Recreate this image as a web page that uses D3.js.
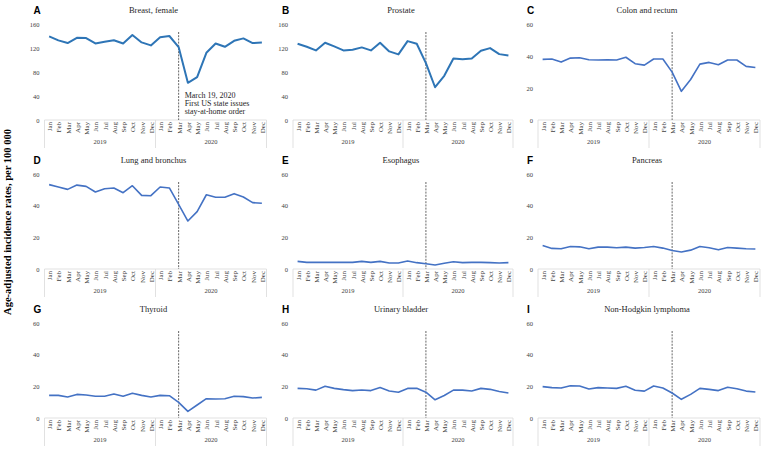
<!DOCTYPE html>
<html><head><meta charset="utf-8">
<script src="https://cdn.jsdelivr.net/npm/d3@7"></script>
<style>body{margin:0;background:#fff}svg{display:block}</style>
</head><body>
<svg id="c" width="771" height="451"></svg>
<script>
const months = ["Jan","Feb","Mar","Apr","May","Jun","Jul","Aug","Sep","Oct","Nov","Dec"];
const years = ["2019","2020"];
const panelLetters = ["A","B","C","D","E","F","G","H","I"];
const panelTitles = ["Breast, female","Prostate","Colon and rectum","Lung and bronchus","Esophagus","Pancreas","Thyroid","Urinary bladder","Non-Hodgkin lymphoma"];
const breast = [139.4,132.7,128.2,137,136.6,127.6,130.4,133,127.6,141.6,129.3,124.3,138,140,121.5,62,71.3,112,127.6,122,132,136,128.2,129];
const prostate = [127,122,116,128.8,122.6,116,117,121,116,128.8,114.3,109.3,131.5,127,94.8,54.6,73.6,102.6,101.4,102.6,115.4,119.8,109.8,107.6];
const colon = [37.9,38.1,36.2,38.7,38.9,37.7,37.5,37.7,37.5,39.2,35.2,34.3,38.1,38.1,29.9,17.9,25.3,34.9,36,34.5,37.5,37.5,33.5,32.8];
const lung = [53.3,51.8,50.3,53,52.2,48.6,50.7,51.2,48.2,52.6,46.5,46.3,51.8,51.2,40.8,30.3,36.2,46.9,45.3,45.3,47.6,45.5,41.9,41.5];
const esophagus = [4.8,4.2,4.2,4.2,4.2,4.2,4.2,4.8,4.2,4.8,3.8,3.8,5,4,3.3,2.5,3.6,4.6,4,4.2,4.2,4,3.8,4];
const pancreas = [14.8,13,12.8,14.2,14,12.8,13.8,13.8,13.4,13.8,13.2,13.6,14.2,13.2,11.7,10.7,11.9,14.2,13.4,12.1,13.6,13.2,12.8,12.6];
const thyroid = [14.3,14.3,13.3,14.9,14.5,13.7,13.7,15.2,13.7,15.6,14.3,13.3,14.3,14.1,9.9,4.2,8.2,12.2,12,12.2,13.7,13.5,12.6,13];
const bladder = [18.7,18.5,17.6,20,18.7,17.9,17.3,17.7,17.3,19.2,17.1,16.3,18.7,18.8,16.3,11.5,14.2,17.6,17.6,17.1,18.7,18.1,16.7,15.8];
const nhl = [19.8,19.2,18.9,20.4,20.2,18.3,19.2,18.9,18.7,20,17.5,17,20.2,18.9,15.8,11.8,14.9,18.7,18.1,17.3,19.4,18.5,17,16.4];
const panelSeries = [breast,prostate,colon,lung,esophagus,pancreas,thyroid,bladder,nhl];
const yTicksBig = [0,40,80,120,160];
const yTicksSmall = [0,20,40,60];
const annotationLines = ["March 19, 2020","First US state issues","stay-at-home order"];
const yAxisTitle = "Age-adjusted incidence rates, per 100 000";

const svg = d3.select("#c");
const serif = "'Liberation Serif','Times New Roman',serif";
const sans = "'Liberation Sans',Arial,sans-serif";

const colLeft = [44.5, 293, 538];
const colWidth = [222, 220, 222];
const rowZero = [120, 269, 418];
const rowTop = [24, 174, 323];

const cats = [];
years.forEach(y => months.forEach(m => cats.push(y + "-" + m)));

svg.append("text").attr("transform","translate(9,222) rotate(-90)")
  .attr("text-anchor","middle").attr("dominant-baseline","middle")
  .attr("font-family",serif).attr("font-weight","bold").attr("font-size",10.5)
  .attr("fill","#000").text(yAxisTitle);

panelSeries.forEach((vals, i) => {
  const r = Math.floor(i / 3), c = i % 3;
  const x0 = colLeft[c], w = colWidth[c];
  const ticks = i < 2 ? yTicksBig : yTicksSmall;
  const x = d3.scalePoint().domain(cats).range([x0, x0 + w]).padding(0.5);
  const y = d3.scaleLinear().domain([0, d3.max(ticks)]).range([rowZero[r], rowTop[r]]);
  const g = svg.append("g");

  g.append("text").attr("x", x0 - 11).attr("y", rowTop[r] - 13)
    .attr("dominant-baseline","middle").attr("font-family",sans).attr("font-weight","bold")
    .attr("font-size",10).attr("fill","#000").text(panelLetters[i]);
  g.append("text").attr("x", x0 + w / 2 - 2).attr("y", rowTop[r] - 13)
    .attr("text-anchor","middle").attr("dominant-baseline","middle")
    .attr("font-family",serif).attr("font-size",8.5).attr("fill","#262626").text(panelTitles[i]);

  const ya = d3.axisLeft(y).tickValues(ticks).tickSize(0).tickPadding(5);
  const yg = g.append("g").attr("transform",`translate(${x0},0)`).call(ya);
  yg.select(".domain").remove();
  yg.selectAll("text").attr("font-family",serif).attr("font-size",6.5).attr("fill","#404040");

  g.append("line").attr("x1",x0).attr("x2",x0+w).attr("y1",rowZero[r]).attr("y2",rowZero[r])
    .attr("stroke","#d9d9d9").attr("stroke-width",0.8);

  const xa = d3.axisBottom(x).tickSize(0).tickFormat(d => d.split("-")[1]);
  const xg = g.append("g").attr("transform",`translate(0,${rowZero[r]})`).call(xa);
  xg.select(".domain").remove();
  xg.selectAll("text").attr("transform","rotate(-90)").attr("text-anchor","end")
    .attr("x",-2).attr("y",0).attr("dy","0.35em")
    .attr("font-family",serif).attr("font-size",7).attr("fill","#404040");

  const step = x.step();
  [0, 12, 24].forEach(k => {
    const sx = x0 + k * step;
    g.append("line").attr("x1",sx).attr("x2",sx).attr("y1",rowZero[r]).attr("y2",rowZero[r]+28)
      .attr("stroke","#d9d9d9").attr("stroke-width",0.8);
  });
  years.forEach((yr, k) => {
    g.append("text").attr("x", x0 + (k * 12 + 6) * step).attr("y", rowZero[r] + 23)
      .attr("text-anchor","middle").attr("dominant-baseline","middle")
      .attr("font-family",serif).attr("font-size",6.5).attr("fill","#404040").text(yr);
  });

  const mx = x("2020-Mar");
  g.append("line").attr("x1",mx).attr("x2",mx).attr("y1",rowTop[r]+8).attr("y2",rowZero[r])
    .attr("stroke","#404040").attr("stroke-width",0.8).attr("stroke-dasharray","2,1.2");

  const line = d3.line().x((d, j) => x(cats[j])).y(d => y(d));
  g.append("path").datum(vals).attr("d", line).attr("fill","none")
    .attr("stroke", i < 2 ? "#2e75b6" : "#4472c4")
    .attr("stroke-width", i < 2 ? 2 : 1.6).attr("stroke-linejoin","round");

  if (i === 0) {
    annotationLines.forEach((t, k) => {
      g.append("text").attr("x", mx + 6).attr("y", 96 + k * 8.2)
        .attr("dominant-baseline","middle").attr("font-family",serif).attr("font-size",8)
        .attr("fill","#262626").text(t);
    });
  }
});
</script>
</body></html>
